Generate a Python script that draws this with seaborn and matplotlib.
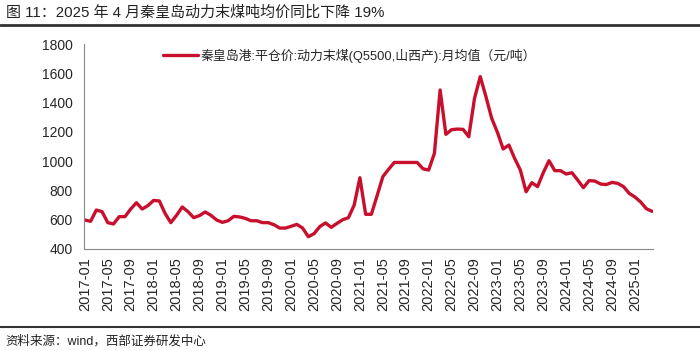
import numpy as np
import pandas as pd
import matplotlib
matplotlib.use("Agg")
import matplotlib.pyplot as plt
import seaborn as sns

months = pd.date_range("2017-01-01", "2025-04-01", freq="MS").strftime("%Y-%m").tolist()
prices = [598, 589, 666, 655, 580, 571, 621, 621, 673, 716, 673, 696,
          732, 728, 643, 580, 630, 687, 655, 614, 628, 653, 630, 598,
          582, 593, 623, 619, 609, 593, 593, 580, 580, 566, 543, 543,
          555, 568, 543, 484, 505, 553, 578, 548, 575, 600, 614, 700,
          887, 637, 637, 764, 894, 944, 991, 991, 991, 991, 991, 948,
          939, 1053, 1486, 1183, 1215, 1219, 1217, 1167, 1429, 1577, 1440, 1292,
          1197, 1083, 1110, 1019, 939, 791, 853, 826, 921, 1003, 935, 935,
          912, 921, 871, 819, 867, 864, 844, 840, 855, 848, 826, 780,
          755, 721, 675, 657]
series_name = "秦皇岛港:平仓价:动力末煤(Q5500,山西产):月均值（元/吨）"
title = "图 11：2025 年 4 月秦皇岛动力末煤吨均价同比下降 19%"
source = "资料来源：wind，西部证券研发中心"
yticks = [400, 600, 800, 1000, 1200, 1400, 1600, 1800]

df = pd.DataFrame({"idx": np.arange(len(months)), "month": months, "price": prices})

sns.set_theme(style="white")
plt.rcParams["font.family"] = ["Liberation Sans", "Noto Sans CJK SC", "DejaVu Sans"]

fig = plt.figure(figsize=(7.0, 3.51), dpi=100)
ax = fig.add_axes([84/700, 1-249/351, (653-84)/700, (249-44)/351])

sns.lineplot(data=df, x="idx", y="price", ax=ax, color="#C8102E", linewidth=2.4,
             label=series_name)

ax.set_xlim(-0.15, len(months) - 0.85)
ax.set_ylim(400, 1800)
ax.set_yticks(yticks)
ax.set_yticklabels([str(v) for v in yticks], fontsize=10)
xt = list(range(0, len(months), 4))
ax.set_xticks(xt)
ax.set_xticklabels([months[i] for i in xt], rotation=90, fontsize=10.5)
ax.set_xlabel("")
ax.set_ylabel("")

for s in ["top", "right"]:
    ax.spines[s].set_visible(False)
for s in ["left", "bottom"]:
    ax.spines[s].set_color("#888888")
    ax.spines[s].set_linewidth(0.8)
ax.tick_params(axis="x", direction="out", length=3, color="#888888", width=0.8, pad=3)
ax.tick_params(axis="y", direction="in", length=2, color="#888888", width=0.8, pad=8)

leg = ax.legend(loc="upper center", bbox_to_anchor=(0.467, 1.015), frameon=False,
                fontsize=9.3, handlelength=2.7, handletextpad=0.2, borderaxespad=0.2)

fig.text(0.008, 0.965, title, fontsize=10.8, ha="left", va="center", color="#222222")
fig.add_artist(plt.Line2D([0.0, 1.0], [1-25/351, 1-25/351], color="#333333", linewidth=2.0))
fig.add_artist(plt.Line2D([0.0, 1.0], [1-327/351, 1-327/351], color="#333333", linewidth=1.5))
fig.text(0.008, 1-341/351, source, fontsize=9, ha="left", va="center", color="#222222")

fig.savefig("out.png", dpi=100)
